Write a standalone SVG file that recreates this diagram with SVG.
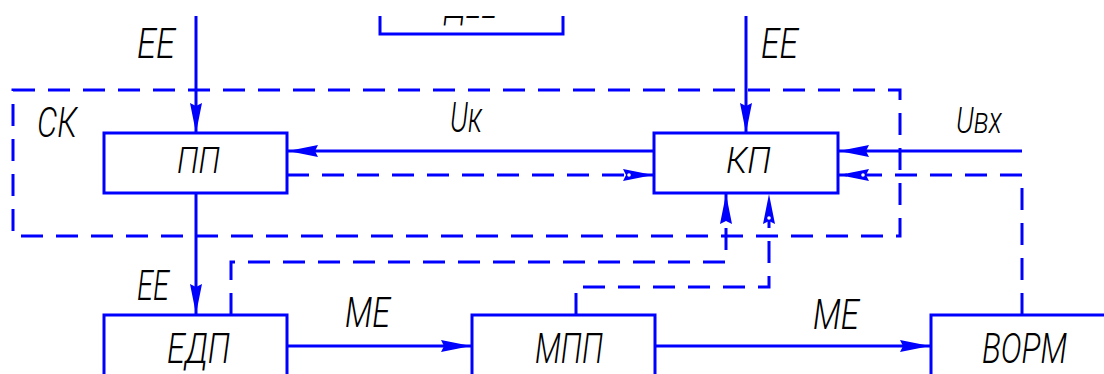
<svg xmlns="http://www.w3.org/2000/svg" width="1104" height="374" viewBox="0 0 1104 374">
  <style>
    .ln { fill: none; stroke: #0000ff; stroke-width: 3; stroke-linecap: butt; stroke-linejoin: miter; }
    .dash { stroke-dasharray: 22 13; }
    .box { fill: #ffffff; stroke: #0000ff; stroke-width: 3; }
    .t { font-family: Roboto, Lato, "Open Sans", "DejaVu Sans", sans-serif; font-style: italic; font-weight: 300; fill: #000000; }
  </style>
  <defs>
    <marker id="arr" markerUnits="userSpaceOnUse" markerWidth="32" markerHeight="16" viewBox="0 -8 32 16" refX="30" refY="0" orient="auto">
      <path d="M0,-6 L30,0 L0,6 L3,0 z" fill="#0000ff"/>
    </marker>
    <marker id="arrd" markerUnits="userSpaceOnUse" markerWidth="32" markerHeight="16" viewBox="0 -8 32 16" refX="30" refY="0" orient="auto">
      <path d="M0,-6 L30,0 L0,6 L3,0 z" fill="#0000ff"/>
      <circle cx="6" cy="0" r="1.8" fill="#ffffff"/>
    </marker>
    <clipPath id="topclip"><rect x="0" y="16" width="1104" height="40"/></clipPath>
  </defs>

  <g id="sk">
    <rect class="ln dash" x="13" y="90" width="887" height="146"/>
    <text class="t" x="37" y="137" font-size="42" textLength="40" lengthAdjust="spacingAndGlyphs">СК</text>
  </g>

  <g id="top-block" clip-path="url(#topclip)">
    <polyline class="ln" points="380,10 380,34 563,34 563,10"/>
    <text class="t" x="445" y="17.5" font-size="42" textLength="52" lengthAdjust="spacingAndGlyphs">ДЕЕ</text>
  </g>

  <g id="pp">
    <rect class="box" x="104" y="133" width="183" height="60"/>
    <text class="t" x="177" y="173" font-size="37" textLength="43" lengthAdjust="spacingAndGlyphs">ПП</text>
  </g>
  <g id="kp">
    <rect class="box" x="654" y="133" width="184" height="60"/>
    <text class="t" x="726" y="173" font-size="37" textLength="45" lengthAdjust="spacingAndGlyphs">КП</text>
  </g>
  <g id="edp">
    <rect class="box" x="104" y="315" width="183" height="80"/>
    <text class="t" x="167" y="363" font-size="42" textLength="63" lengthAdjust="spacingAndGlyphs">ЕДП</text>
  </g>
  <g id="mpp">
    <rect class="box" x="472" y="315" width="183" height="80"/>
    <text class="t" x="535" y="363" font-size="42" textLength="68" lengthAdjust="spacingAndGlyphs">МПП</text>
  </g>
  <g id="vorm">
    <rect class="box" x="931" y="315" width="200" height="80"/>
    <text class="t" x="982" y="363" font-size="42" textLength="85" lengthAdjust="spacingAndGlyphs">ВОРМ</text>
  </g>

  <g id="connectors">
    <line class="ln" x1="196" y1="16" x2="196" y2="133" marker-end="url(#arr)"/>
    <line class="ln" x1="746" y1="16" x2="746" y2="133" marker-end="url(#arr)"/>
    <line class="ln" x1="654" y1="151" x2="288" y2="151" marker-end="url(#arr)"/>
    <line class="ln dash" x1="287" y1="175" x2="653" y2="175" marker-end="url(#arrd)"/>
    <line class="ln" x1="1022" y1="151" x2="839" y2="151" marker-end="url(#arr)"/>
    <polyline class="ln dash" points="1022,315 1022,175 839,175" marker-end="url(#arrd)"/>
    <line class="ln" x1="196" y1="193" x2="196" y2="314" marker-end="url(#arr)"/>
    <polyline class="ln dash" points="231,315 231,262 726,262 726,194" marker-end="url(#arr)"/>
    <polyline class="ln dash" points="576,315 576,287 769,287 769,194" marker-end="url(#arrd)"/>
    <line class="ln" x1="287" y1="346" x2="471" y2="346" marker-end="url(#arr)"/>
    <line class="ln" x1="655" y1="346" x2="930" y2="346" marker-end="url(#arr)"/>
  </g>

  <g id="labels">
    <text class="t" x="137" y="58" font-size="42" textLength="38" lengthAdjust="spacingAndGlyphs">ЕЕ</text>
    <text class="t" x="761" y="58" font-size="42" textLength="37" lengthAdjust="spacingAndGlyphs">ЕЕ</text>
    <text class="t" x="450" y="132" font-size="42" textLength="32" lengthAdjust="spacingAndGlyphs">Uк</text>
    <text class="t" x="956" y="133" font-size="37" textLength="46" lengthAdjust="spacingAndGlyphs">Uвх</text>
    <text class="t" x="137" y="300" font-size="42" textLength="32" lengthAdjust="spacingAndGlyphs">ЕЕ</text>
    <text class="t" x="345" y="327" font-size="42" textLength="45" lengthAdjust="spacingAndGlyphs">МЕ</text>
    <text class="t" x="813" y="329" font-size="42" textLength="46" lengthAdjust="spacingAndGlyphs">МЕ</text>
  </g>
</svg>
